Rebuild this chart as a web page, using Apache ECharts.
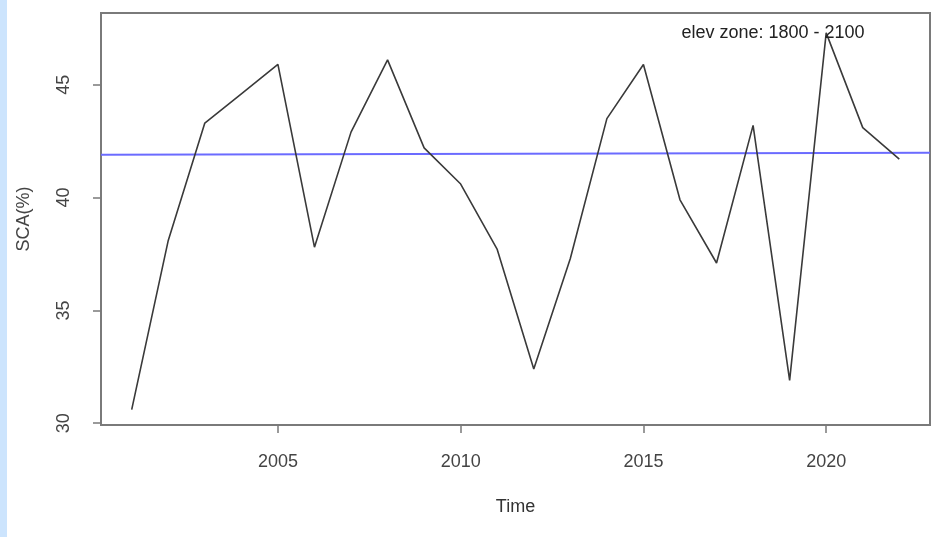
<!DOCTYPE html>
<html>
<head>
<meta charset="utf-8">
<script src="https://cdn.jsdelivr.net/npm/echarts@6/dist/echarts.min.js"></script>
<style>
  html, body { margin: 0; padding: 0; background: #ffffff; }
  #wrap { position: relative; width: 932px; height: 537px; }
  #strip { position: absolute; left: 0; top: 0; width: 7px; height: 537px; background: #cce4fd; }
  #chart { position: absolute; left: 0; top: 0; width: 932px; height: 537px; }
</style>
</head>
<body>
<div id="wrap">
  <div id="chart"></div>
  <div id="strip"></div>
</div>
<script>
// Yearly snow-covered area (%) for one elevation band
const years = [2001, 2002, 2003, 2004, 2005, 2006, 2007, 2008, 2009, 2010, 2011,
               2012, 2013, 2014, 2015, 2016, 2017, 2018, 2019, 2020, 2021, 2022];
const sca = [30.6, 38.1, 43.3, 44.6, 45.9, 37.8, 42.9, 46.1, 42.2, 40.6, 37.7,
             32.4, 37.3, 43.5, 45.9, 39.9, 37.1, 43.2, 31.9, 47.3, 43.1, 41.7];

// Linear trend (blue line), value at the two ends of the x range
const trendYears = [2000.16, 2022.84];
const trendValues = [41.90, 41.99];

const xTicks = [2005, 2010, 2015, 2020];
const yTicks = [30, 35, 40, 45];
const zoneLabel = 'elev zone: 1800 - 2100';

const xMin = 2000.16, xMax = 2022.84;
const yMin = 29.92, yMax = 48.18;

const font = '"Liberation Sans", Arial, sans-serif';
const axisGrey = '#7a7a7a';

const chart = echarts.init(document.getElementById('chart'), null, { renderer: 'canvas' });

chart.setOption({
  animation: false,
  backgroundColor: '#ffffff',
  grid: {
    left: 101, top: 13, right: 2, bottom: 112,
    show: true, borderColor: axisGrey, borderWidth: 2, backgroundColor: 'transparent'
  },
  xAxis: {
    type: 'value', min: xMin, max: xMax,
    name: 'Time', nameLocation: 'middle', nameGap: 73,
    nameTextStyle: { fontFamily: font, fontSize: 18, color: '#333' },
    splitLine: { show: false },
    axisLine: { show: false },
    axisTick: { show: true, length: 8, customValues: xTicks, lineStyle: { color: axisGrey, width: 1.5 } },
    axisLabel: {
      customValues: xTicks, margin: 28, fontFamily: font, fontSize: 18, color: '#444',
      formatter: v => String(v)
    }
  },
  yAxis: {
    type: 'value', min: yMin, max: yMax,
    name: 'SCA(%)', nameLocation: 'middle', nameGap: 68, nameRotate: 90,
    nameTextStyle: { fontFamily: font, fontSize: 18, color: '#444' },
    splitLine: { show: false },
    axisLine: { show: false },
    axisTick: { show: true, length: 8, customValues: yTicks, lineStyle: { color: axisGrey, width: 1.5 } },
    axisLabel: {
      customValues: yTicks, margin: 28, rotate: 90, fontFamily: font, fontSize: 18, color: '#444',
      formatter: v => String(v)
    }
  },
  series: [
    {
      name: 'trend', type: 'line', symbol: 'none', silent: true,
      data: trendYears.map((x, i) => [x, trendValues[i]]),
      lineStyle: { color: '#6b6bff', width: 2 }, z: 2
    },
    {
      name: 'SCA', type: 'line', symbol: 'none', silent: true,
      data: years.map((y, i) => [y, sca[i]]),
      lineStyle: { color: '#3a3a3a', width: 1.6 }, z: 3
    }
  ],
  graphic: [
    {
      type: 'text', x: 773, y: 33, z: 10,
      style: { text: zoneLabel, font: '18px ' + font, fill: '#222', align: 'center', verticalAlign: 'middle' }
    }
  ]
});
</script>
</body>
</html>
